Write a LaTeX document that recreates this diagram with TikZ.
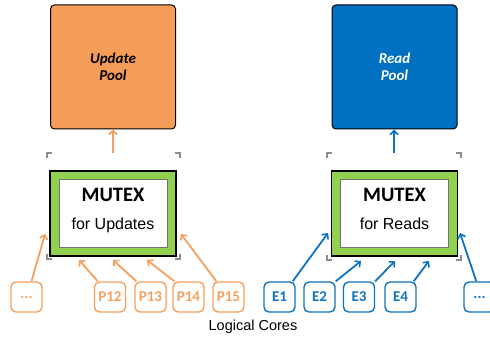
\documentclass[tikz,border=0pt]{standalone}
\usepackage{fontspec}
\setmainfont{Carlito}
\newfontfamily\arialf{Liberation Sans}
\usetikzlibrary{arrows.meta,calc}
\definecolor{orgfill}{RGB}{245,157,88}
\definecolor{orgline}{RGB}{245,160,95}
\definecolor{bluefill}{RGB}{0,112,192}
\definecolor{blueline}{RGB}{15,115,195}
\definecolor{mgreen}{RGB}{146,208,80}
\begin{document}
\begin{tikzpicture}[x=1pt,y=-1pt,
  pool/.style={draw=black, line width=1, rounded corners=4, minimum width=125, minimum height=124, align=center, inner sep=0, font=\fontsize{15}{17.5}\selectfont\bfseries\itshape},
  mutexout/.style={draw=black, fill=mgreen, line width=1.1, minimum width=126, minimum height=85, inner sep=0},
  mutexin/.style={draw=black!55, fill=white, line width=0.6, minimum width=108, minimum height=68, inner sep=0},
  mtitle/.style={anchor=base, font=\fontsize{20.5}{24}\selectfont\bfseries},
  msub/.style={anchor=base, font=\arialf\fontsize{16}{19}\selectfont},
  core/.style={rounded corners=5, line width=1.4, minimum width=31, minimum height=30, inner sep=0, font=\fontsize{15}{17}\selectfont\bfseries},
  ocore/.style={core, draw=orgline, text=orgline},
  bcore/.style={core, draw=blueline, text=blueline},
  arr/.style={line width=1.8, -{Straight Barb[length=4pt,width=8pt,line width=1.6pt]}},
  oarr/.style={arr, draw=orgline},
  barr/.style={arr, draw=blueline},
  brk/.style={draw=black!45, line width=1.7}
]
\useasboundingbox (0,0) rectangle (490,339);
\clip (0,0) rectangle (490,339);

% pools
\node[pool, fill=orgfill, text=black] (poolU) at (113,67) {Update\\Pool};
\node[pool, fill=bluefill, text=white] (poolR) at (394.5,67) {Read\\Pool};

% mutex boxes
\node[mutexout] (mxU) at (113,213.5) {};
\node[mutexin] (mxUi) at (113,213) {};
\node[mtitle] (mxUt) at (113,201.7) {MUTEX};
\node[msub] (mxUs) at (113,229.3) {for Updates};

\node[mutexout] (mxR) at (394.5,213.5) {};
\node[mutexin] (mxRi) at (394.5,213) {};
\node[mtitle] (mxRt) at (394.5,201.7) {MUTEX};
\node[msub] (mxRs) at (394.5,229.3) {for Reads};

% brackets
\draw[brk] (47,158) -- (47,153) -- (52,153);
\draw[brk] (175,153) -- (180,153) -- (180,158);
\draw[brk] (47,254) -- (47,259) -- (52,259);
\draw[brk] (175,259) -- (180,259) -- (180,254);
\draw[brk] (327,158) -- (327,153) -- (332,153);
\draw[brk] (456,153) -- (461,153) -- (461,158);
\draw[brk] (327,255) -- (327,260) -- (332,260);
\draw[brk] (456,260) -- (461,260) -- (461,255);

% pool arrows
\coordinate (tU) at (113,153);
\coordinate (tR) at (394,153);
\draw[oarr, line width=2] (tU) -- (tU |- poolU.south);
\draw[barr, line width=2] (tR) -- (tR |- poolR.south);

% cores
\node[ocore] (dL) at (26.5,297) {...};
\node[ocore] (p12) at (110,297) {P12};
\node[ocore] (p13) at (150.5,297) {P13};
\node[ocore] (p14) at (188.5,297) {P14};
\node[ocore] (p15) at (228.5,297) {P15};
\node[bcore] (e1) at (279.5,297) {E1};
\node[bcore] (e2) at (319.5,297) {E2};
\node[bcore] (e3) at (359,297) {E3};
\node[bcore] (e4) at (400.5,297) {E4};
\node[bcore] (dR) at (479.5,297) {...};

% arrow targets
\coordinate (adL) at (45,234);
\coordinate (a12) at (79,260);
\coordinate (a13) at (113,260);
\coordinate (a14) at (147,260);
\coordinate (a15) at (181,234);
\coordinate (ae1) at (328,233);
\coordinate (ae2) at (361,261);
\coordinate (ae3) at (395,261);
\coordinate (ae4) at (429,261);
\coordinate (adR) at (460,233);

\draw[oarr] ([xshift=5]dL.north) -- (adL);
\draw[oarr] ([xshift=4]p12.north west) -- (a12);
\draw[oarr] ([xshift=2]p13.north west) -- (a13);
\draw[oarr] ([xshift=2]p14.north west) -- (a14);
\draw[oarr] ([xshift=4]p15.north west) -- (a15);
\draw[barr] ([xshift=-3]e1.north east) -- (ae1);
\draw[barr] ([xshift=0]e2.north east) -- (ae2);
\draw[barr] ([xshift=0]e3.north east) -- (ae3);
\draw[barr] ([xshift=-3]e4.north east) -- (ae4);
\draw[barr] ([xshift=13]dR.north west) -- (adR);

\node[font=\arialf\fontsize{14.5}{17}\selectfont, text=black] (lc) at (253,327) {Logical Cores};
\end{tikzpicture}
\end{document}
